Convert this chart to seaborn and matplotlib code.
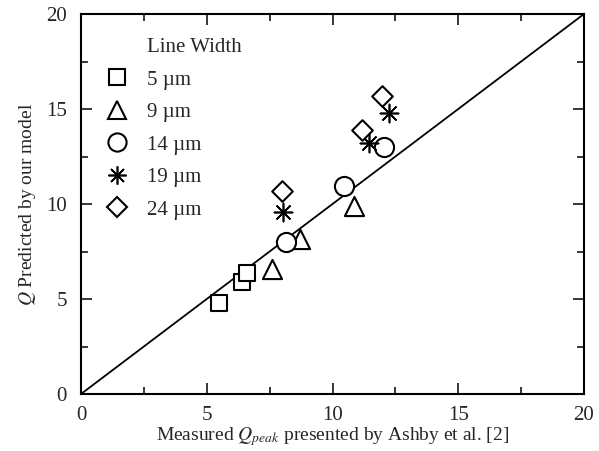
import matplotlib
matplotlib.use("Agg")
import matplotlib.pyplot as plt
import seaborn as sns
import pandas as pd
from matplotlib.ticker import MultipleLocator
from matplotlib.lines import Line2D

sns.set_style("ticks")
plt.rcParams['font.family'] = ['Liberation Serif', 'DejaVu Serif']
plt.rcParams['mathtext.fontset'] = 'stix'

labels = ["5 µm", "9 µm", "14 µm", "19 µm", "24 µm"]
legend_title = "Line Width"
x_5 = [5.49, 6.39, 6.59]
y_5 = [4.77, 5.88, 6.39]
x_9 = [7.58, 8.71, 10.85]
y_9 = [6.56, 8.14, 9.9]
x_14 = [8.15, 10.46, 12.06]
y_14 = [8.0, 10.95, 13.0]
x_19 = [8.04, 11.45, 12.25]
y_19 = [9.6, 13.2, 14.8]
x_24 = [7.98, 11.17, 11.96]
y_24 = [10.7, 13.9, 15.7]
diag = [0, 20]

xs = [x_5, x_9, x_14, x_19, x_24]
ys = [y_5, y_9, y_14, y_19, y_24]
markers = ["s", "^", "o", (8, 2, 0), "D"]
sizes = [130, 190, 190, 170, 110]

rows = []
for lab, xv, yv in zip(labels, xs, ys):
    for a, b in zip(xv, yv):
        rows.append({"series": lab, "x": a, "y": b})
df = pd.DataFrame(rows)

W, H = 599, 451
fig = plt.figure(figsize=(W/100, H/100), dpi=100)
ax = fig.add_axes([81/W, 1-394/H, (584-81)/W, (394-14)/H])

sns.lineplot(x=diag, y=diag, ax=ax, color="black", linewidth=1.3)

handles = []
for lab, m, s in zip(labels, markers, sizes):
    sub = df[df["series"] == lab]
    if isinstance(m, tuple):
        sns.scatterplot(data=sub, x="x", y="y", ax=ax, marker=m, s=s,
                        color="black", linewidth=1.2, zorder=3)
        handles.append(Line2D([], [], marker=m, linestyle="", color="black",
                              markersize=s**0.5, markeredgewidth=1.2))
    else:
        sns.scatterplot(data=sub, x="x", y="y", ax=ax, marker=m, s=s,
                        facecolor="white", edgecolor="black", linewidth=1.5, zorder=3)
        handles.append(Line2D([], [], marker=m, linestyle="", markerfacecolor="white",
                              markeredgecolor="black", markersize=s**0.5 * 0.95,
                              markeredgewidth=1.5))

ax.set_xlim(0, 20)
ax.set_ylim(0, 20)
ax.xaxis.set_major_locator(MultipleLocator(5))
ax.yaxis.set_major_locator(MultipleLocator(5))
ax.xaxis.set_minor_locator(MultipleLocator(2.5))
ax.yaxis.set_minor_locator(MultipleLocator(2.5))
ax.tick_params(which="both", direction="in", top=True, right=True, labelsize=15, width=1.3)
ax.tick_params(which="major", length=8)
ax.tick_params(axis="x", which="major", pad=9)
ax.tick_params(axis="y", which="major", pad=10)
ax.tick_params(which="minor", length=5)
for sp in ax.spines.values():
    sp.set_linewidth(1.5)
    sp.set_color("black")

ax.set_xlabel("Measured $Q_{peak}$ presented by Ashby et al. [2]", fontsize=14, labelpad=0)
ax.set_ylabel("$Q$ Predicted by our model", fontsize=14, labelpad=6)

fig.text(147/W, 1-47/H, legend_title, fontsize=15, ha="left", va="center")
leg = fig.legend(handles, labels, loc="upper left",
                 bbox_to_anchor=(107/W, 1-70/H), bbox_transform=fig.transFigure,
                 frameon=False, fontsize=15, borderpad=0, borderaxespad=0,
                 handlelength=1.0, handletextpad=0.92, labelspacing=0.62)

fig.savefig("out.png", dpi=100)
